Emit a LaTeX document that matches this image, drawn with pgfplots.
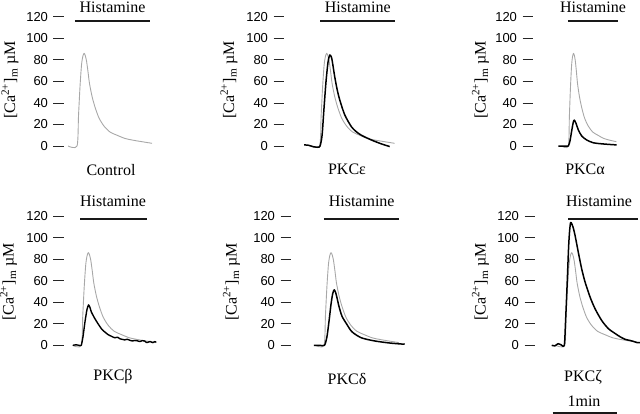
\documentclass[border=0pt]{standalone}
\usepackage{pgfplots}
\pgfplotsset{compat=1.18}
\usepackage{pgfplotstable}
\usepackage{fontspec}
\setmainfont{Liberation Serif}
\newfontfamily\tickfont{Liberation Sans}
\definecolor{ctrl}{RGB}{168,168,168}

% time in s from histamine onset, [Ca2+]m in uM
\pgfplotstableread{
t v
-8.4 0
0 0
1.4 28
2.8 55
4.2 75
5.4 83
6.6 86
7.7 84
8.9 79
10.3 69
11.7 58
14.1 46
16.9 36
20.6 26
25.3 18.5
30.9 13
37.5 10
45 7
52.5 5.4
60.9 4
70.3 2.5
}\control

\pgfplotstableread{
t v
-14.6 1
-10.9 0.8
-8.1 0
-5.3 -0.8
-1.5 -1
0.4 0
2.3 10
4.1 35
6.0 60
7.9 78
9.5 84.5
11.2 82
12.6 74
14.2 64
16.3 53
18.8 43
23.5 29
29.7 18
34.1 13.5
39.1 10
48.5 5.6
57.8 2
65.7 -0.5
}\epsdata

\pgfplotstableread{
t v
-12.7 0
-4.2 0
0 0
2.2 5
4.3 14
6.3 22
7.6 24
9.8 21
12.7 15
17 9.3
23.3 5.6
31.7 3
44.3 1.9
61.3 1
}\alphadata

\pgfplotstableread{
t v
-7.8 0
-5 0.5
-2.2 0
0 0
1.6 8
3.5 22
5.3 33
6.8 37.5
8.2 35
9.4 31
12.6 25
15.7 20
18.8 15.5
21.3 13
25 10
28 8.5
31.3 7
34 7.5
36.3 6
38.5 5.5
40.7 5
43 5.6
45.7 4.6
48 4
50.1 4.5
52.5 4.2
55 3.5
57 4.3
59.4 4
61 2.6
62.5 2.8
64.4 3.5
66 2.9
67.2 2.5
68.8 3.4
70.3 3
}\betadata

\pgfplotstableread{
t v
-9.4 0
-3.75 0
0.5 0
2.8 8
4.7 22
6.6 38
8.2 48
9.7 51.5
11.25 48
12.7 42
14.1 36
16.9 27
21.1 20
26.3 12.5
35 7
47.8 4
62.8 2
75.7 1
}\deltadata

\pgfplotstableread{
t v
-12.1 0
-9 -0.5
-6.2 1.5
-3.4 0.5
-0.3 0
0.8 20
2.3 55
3.7 90
4.6 105
5.7 114
7.8 110
9.8 102
12.8 86.6
16 71
19.1 59
23.8 45
28.5 34
34.8 23
41 15.5
47.3 11
51.9 8
56.6 5.6
61.3 4.5
64.4 3.7
67.9 2.5
70.7 2.5
}\zetadata

\pgfplotsset{
  panel/.style={
    scale only axis, enlargelimits=false, clip=false,
    y=1.0775pt, ymin=-5, ymax=125,
    axis x line=none, axis y line*=left,
    y axis line style={draw=none},
    ytick={0,20,...,120},
    tick align=outside, major tick length=10.5pt,
    ytick style={black!85, line width=0.8pt},
    yticklabel style={font=\tickfont\fontsize{13}{15}\selectfont, xshift=-2pt, /pgf/number format/assume math mode=true},
  },
  ctrlline/.style={ctrl, line width=0.9pt, smooth, tension=0.45, line join=round},
  blk/.style={black, line width=1.5pt, smooth, tension=0.45, line join=round},
  bar/.style={black!90, line width=1.8pt},
}

\begin{document}
\begin{tikzpicture}
\useasboundingbox (0pt,0pt) rectangle (640pt,414pt);

% ---- Control ----
\begin{axis}[panel, at={(64pt,262.6pt)}, anchor=south west, x=1.0667pt, xmin=-12.2, xmax=78]
\addplot[ctrlline] table[x=t,y=v]{\control};
\addplot[bar] coordinates {(-1.9,116.3) (68.4,116.3)};
\end{axis}

% ---- PKC epsilon ----
\begin{axis}[panel, at={(284pt,262.6pt)}, anchor=south west, x=1.0667pt, xmin=-33.4, xmax=78]
\addplot[ctrlline] table[x=t,y=v]{\control};
\addplot[blk] table[x=t,y=v]{\epsdata};
\addplot[bar] coordinates {(0.4,116.3) (70.7,116.3)};
\end{axis}

% ---- PKC alpha ----
\begin{axis}[panel, at={(533pt,262.6pt)}, anchor=south west, x=0.7893pt, xmin=-44.7, xmax=78]
\addplot[ctrlline, restrict x to domain=-20:66] table[x=t,y=v]{\control};
\addplot[blk] table[x=t,y=v]{\alphadata};
\addplot[bar] coordinates {(-0.4,116.3) (63,116.3)};
\end{axis}

% ---- PKC beta ----
\begin{axis}[panel, at={(64pt,63.3pt)}, anchor=south west, x=1.0667pt, xmin=-16.2, xmax=78]
\addplot[ctrlline] table[x=t,y=v]{\control};
\addplot[blk, line width=1.4pt, tension=0.3] table[x=t,y=v]{\betadata};
\addplot[bar] coordinates {(-1.2,117) (61.9,117)};
\end{axis}

% ---- PKC delta ----
\begin{axis}[panel, at={(291pt,63.3pt)}, anchor=south west, x=1.0667pt, xmin=-30.9, xmax=78]
\addplot[ctrlline] table[x=t,y=v]{\control};
\addplot[blk] table[x=t,y=v]{\deltadata};
\addplot[bar] coordinates {(0,117) (70.3,117)};
\end{axis}

% ---- PKC zeta ----
\begin{axis}[panel, at={(535pt,63.3pt)}, anchor=south west, x=1.0667pt, xmin=-27.75, xmax=72]
\addplot[ctrlline] table[x=t,y=v]{\control};
\addplot[blk] table[x=t,y=v]{\zetadata};
\addplot[bar] coordinates {(3.5,117) (68.8,117)};
% 1 min scale bar
\addplot[bar] coordinates {(-11.2,-62.8) (48.8,-62.8)};
\end{axis}

% ---- texts ----
\begin{scope}[every node/.style={font=\fontsize{16}{18}\selectfont, inner sep=0pt}]
\node[anchor=base] at (112.5pt,401.8pt) {Histamine};
\node[anchor=base] at (357.8pt,401.8pt) {Histamine};
\node[anchor=base] at (593pt,401.8pt) {Histamine};
\node[anchor=base] at (113pt,207pt) {Histamine};
\node[anchor=base] at (361.7pt,207pt) {Histamine};
\node[anchor=base] at (599pt,207pt) {Histamine};

\node[anchor=base] at (111pt,238pt) {Control};
\node[anchor=base] at (347pt,239pt) {PKCε};
\node[anchor=base] at (585pt,239pt) {PKCα};
\node[anchor=base] at (113pt,33pt) {PKCβ};
\node[anchor=base] at (347pt,29pt) {PKCδ};
\node[anchor=base] at (583pt,32pt) {PKCζ};
\node[anchor=base] at (584pt,7.3pt) {1min};

\foreach \xx/\yy in {10/334, 229/334, 480.5/334, 8.5/132, 231.5/132, 480.5/132}{
  \node[rotate=90, anchor=center] at (\xx pt,\yy pt) {[Ca\textsuperscript{2+}]\textsubscript{m} µM};
}
\end{scope}
\end{tikzpicture}
\end{document}
